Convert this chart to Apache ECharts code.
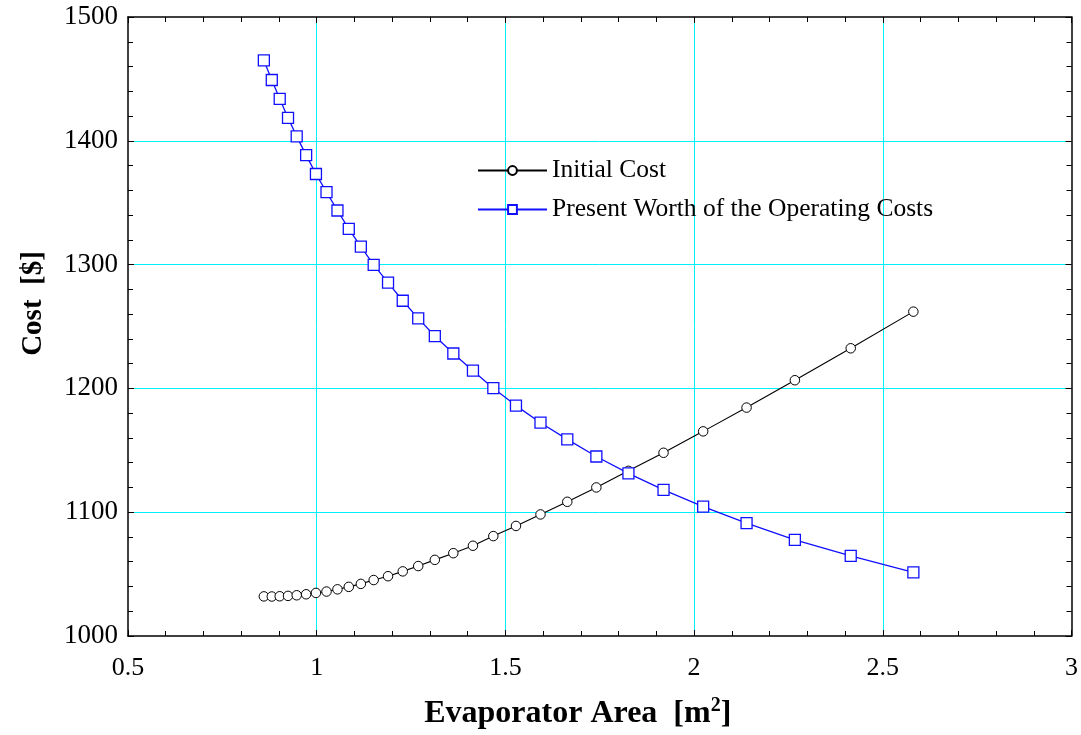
<!DOCTYPE html>
<html>
<head>
<meta charset="utf-8">
<script src="https://cdn.jsdelivr.net/npm/echarts@6/dist/echarts.min.js"></script>
<style>
  html, body { margin: 0; padding: 0; background: #fff; }
  #chart { width: 1081px; height: 735px; }
</style>
</head>
<body>
<div id="chart"></div>
<script>
// Evaporator area [m^2] for each design point
const area = [0.860, 0.881, 0.902, 0.924, 0.947, 0.972, 0.998, 1.026, 1.055, 1.085,
              1.117, 1.151, 1.189, 1.228, 1.269, 1.313, 1.362, 1.414, 1.468, 1.528,
              1.593, 1.664, 1.741, 1.826, 1.919, 2.024, 2.139, 2.267, 2.415, 2.581];

// Initial cost [$]
const initialCost = [1032.0, 1031.9, 1032.1, 1032.4, 1032.9, 1033.7, 1034.8, 1035.9, 1037.7, 1039.7,
                     1042.1, 1045.2, 1048.3, 1052.2, 1056.5, 1061.5, 1066.9, 1072.9, 1080.7, 1088.9,
                     1098.2, 1108.4, 1120.0, 1133.4, 1148.0, 1165.3, 1184.5, 1206.6, 1232.4, 1262.0];

// Present worth of the operating costs [$]
const operatingCost = [1464.9, 1449.1, 1433.9, 1418.5, 1403.6, 1388.4, 1373.2, 1358.6, 1343.7, 1328.8,
                       1314.5, 1299.8, 1285.4, 1270.8, 1256.6, 1242.3, 1228.2, 1214.3, 1200.2, 1186.1,
                       1172.3, 1158.8, 1145.0, 1131.4, 1118.1, 1104.5, 1091.1, 1077.7, 1064.7, 1051.4];

const seriesNames = ['Initial Cost', 'Present Worth of the Operating Costs'];
const xTicks = { min: 0.5, max: 3, step: 0.5 };
const yTicks = { min: 1000, max: 1500, step: 100 };

const FONT = "'Liberation Serif', 'Times New Roman', serif";
const GRID_COLOR = '#00f0f8';

function pairs(xs, ys) { return xs.map((x, i) => [x, ys[i]]); }

function baseAxis(cfg, extra) {
  return Object.assign({
    type: 'value',
    min: cfg.min, max: cfg.max, interval: cfg.step,
    axisLine: { show: true, onZero: false, lineStyle: { color: '#000', width: 1.5 } },
    axisTick: { show: true, inside: true, length: 6, lineStyle: { color: '#000', width: 1 } },
    minorTick: { show: true, splitNumber: 5, length: 5, lineStyle: { color: '#000', width: 1 } },
    splitLine: { show: false },
    minorSplitLine: { show: false },
    splitArea: { show: false },
    axisLabel: { show: false }
  }, extra);
}

// Cyan reference lines at the labelled ticks inside the plot frame
const gridLine = { show: true, showMinLine: false, showMaxLine: false, lineStyle: { color: GRID_COLOR, width: 1, opacity: 1 } };
const plainNumber = v => String(v);

const chart = echarts.init(document.getElementById('chart'), null, { renderer: 'canvas' });

chart.setOption({
  animation: false,
  backgroundColor: '#fff',
  grid: { left: 128, right: 8, top: 17, bottom: 92, containLabel: false },
  xAxis: [
    baseAxis(xTicks, {
      position: 'bottom',
      splitLine: gridLine,
      axisLabel: { show: true, color: '#000', fontFamily: FONT, fontSize: 26, margin: 19, formatter: plainNumber },
      name: '{b|Evaporator Area  [m}{sup|2}{b|]}',
      nameLocation: 'middle',
      nameGap: 60,
      nameTextStyle: {
        padding: [0, 44, 0, 0],
        rich: {
          b: { fontFamily: FONT, fontWeight: 'bold', fontSize: 32, color: '#000', verticalAlign: 'bottom' },
          sup: { fontFamily: FONT, fontWeight: 'bold', fontSize: 20, color: '#000', verticalAlign: 'bottom', padding: [0, 0, 14, 0] }
        }
      }
    }),
    baseAxis(xTicks, { position: 'top' })
  ],
  yAxis: [
    baseAxis(yTicks, {
      position: 'left',
      splitLine: gridLine,
      axisLabel: { show: true, color: '#000', fontFamily: FONT, fontSize: 27, margin: 10, formatter: plainNumber },
      name: 'Cost  [$]',
      nameLocation: 'middle',
      nameGap: 80,
      nameTextStyle: { fontFamily: FONT, fontWeight: 'bold', fontSize: 29, color: '#000', padding: [0, 0, 0, 46] }
    }),
    baseAxis(yTicks, { position: 'right' })
  ],
  legend: {
    orient: 'vertical',
    left: 472,
    top: 152,
    itemWidth: 69,
    itemHeight: 11,
    itemGap: 12,
    data: seriesNames,
    textStyle: { fontFamily: FONT, fontSize: 25.5, color: '#000', lineHeight: 27 }
  },
  series: [
    {
      name: seriesNames[0],
      type: 'line',
      data: pairs(area, initialCost),
      symbol: 'circle',
      symbolSize: 9.5,
      itemStyle: { color: '#fff', borderColor: '#000', borderWidth: 1 },
      lineStyle: { color: '#000', width: 1.1 },
      z: 3
    },
    {
      name: seriesNames[1],
      type: 'line',
      data: pairs(area, operatingCost),
      symbol: 'rect',
      symbolSize: 11,
      itemStyle: { color: '#fff', borderColor: '#1010ff', borderWidth: 1.3 },
      lineStyle: { color: '#1010ff', width: 1.3 },
      z: 4
    }
  ]
});
</script>
</body>
</html>
